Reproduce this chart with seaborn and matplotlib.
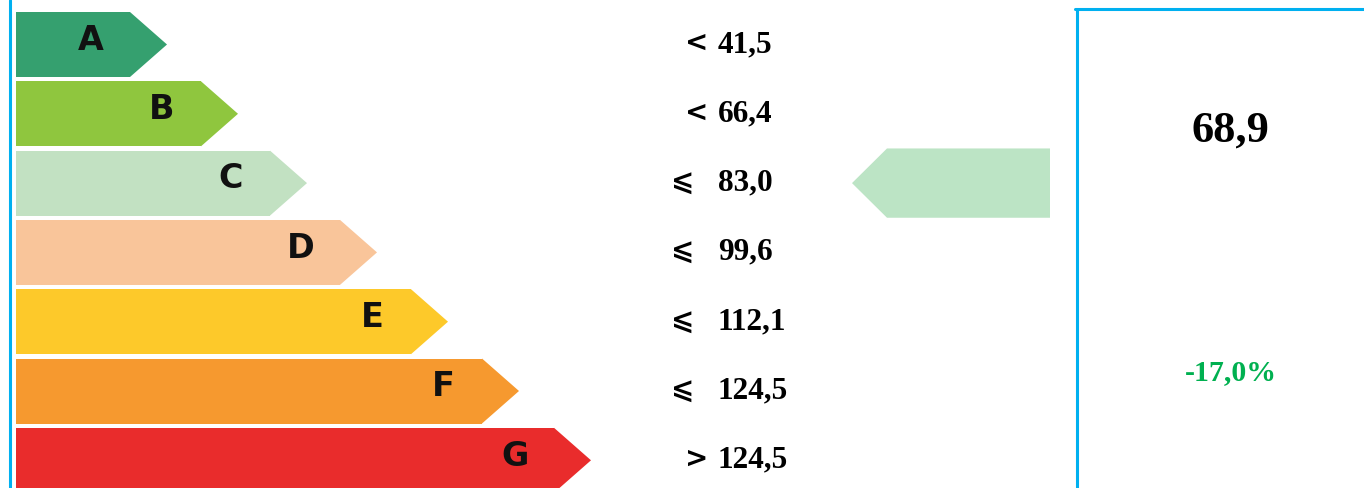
import matplotlib
matplotlib.use("Agg")
import matplotlib.pyplot as plt
from matplotlib.patches import Polygon
import seaborn as sns

# energy classes
classes = ["A", "B", "C", "D", "E", "F", "G"]
class_colors = ["#35a06f", "#8fc63e", "#c2e1c2", "#f9c59a", "#fdc92a", "#f6992f", "#e92c2c"]
bar_len = [114, 185, 254, 324, 395, 466, 538]   # visual length of the arrow bodies
symbols = ["<", "<", "⩽", "⩽", "⩽", "⩽", ">"]
limits = ["41,5", "66,4", "83,0", "99,6", "112,1", "124,5", "124,5"]

value = "68,9"
change = "-17,0%"
value_class = "C"

W, H = 1364, 488
X0 = 16          # left edge of the bars, px
TIP = 37         # depth of the chevron point, px
PITCH = 69.3     # row pitch, px
ROW0 = 44.5      # centre of first row, px

sns.set_theme(style="white")
fig = plt.figure(figsize=(W / 100, H / 100), dpi=100)
ax = fig.add_axes([0, 0, 1, 1])

sns.barplot(x=bar_len, y=classes, hue=classes, palette=class_colors, legend=False,
            orient="h", width=65 / PITCH, saturation=1, linewidth=0, ax=ax)

ax.set_xlim(-X0, W - X0)
ax.set_ylim((H - ROW0) / PITCH, -ROW0 / PITCH)
ax.axis("off")

serif = ["Liberation Serif", "DejaVu Sans"]

for i, p in enumerate(ax.patches[:len(classes)]):
    x1 = p.get_x() + p.get_width()
    y0, h = p.get_y(), p.get_height()
    yc = y0 + h / 2
    ax.add_patch(Polygon([(x1, y0), (x1 + TIP, yc), (x1, y0 + h)],
                         closed=True, color=p.get_facecolor(), lw=0))
    ax.text(x1 + TIP - 76, yc - 0.06, classes[i], ha="center", va="center",
            fontsize=24, fontweight="bold", family="DejaVu Sans", color="#111111")
    sym_x = 697 if symbols[i] in "<>" else 683
    ax.text(sym_x - X0, yc - 0.02, symbols[i], ha="center", va="center",
            fontsize=20, fontweight="bold", family="DejaVu Sans", color="black")
    ax.text(718 - X0, yc, limits[i], ha="left", va="center",
            fontsize=22.5, fontweight="bold", family=serif, color="black")

# indicator arrow on the matching row
k = classes.index(value_class)
ax.add_patch(Polygon([(852 - X0, k), (887 - X0, k - 0.5), (1050 - X0, k - 0.5),
                      (1050 - X0, k + 0.5), (887 - X0, k + 0.5)],
                     closed=True, color="#bce4c5", lw=0))

# blue frame lines
blue = "#00b0f0"
fig.add_artist(plt.Line2D([9.5 / W, 9.5 / W], [0, 1], color=blue, lw=2.2))
fig.add_artist(plt.Line2D([1076.5 / W, 1076.5 / W], [0, 1 - 9 / H], color=blue, lw=2.2))
fig.add_artist(plt.Line2D([1075 / W, 1], [1 - 9 / H, 1 - 9 / H], color=blue, lw=2.2))

fig.text(1230 / W, 1 - 131 / H, value, ha="center", va="center",
         fontsize=32, fontweight="bold", family=serif, color="black")
fig.text(1231 / W, 1 - 373 / H, change, ha="center", va="center",
         fontsize=21.5, fontweight="bold", family=serif, color="#00b050")

fig.savefig("out.png", dpi=100, facecolor="white")
